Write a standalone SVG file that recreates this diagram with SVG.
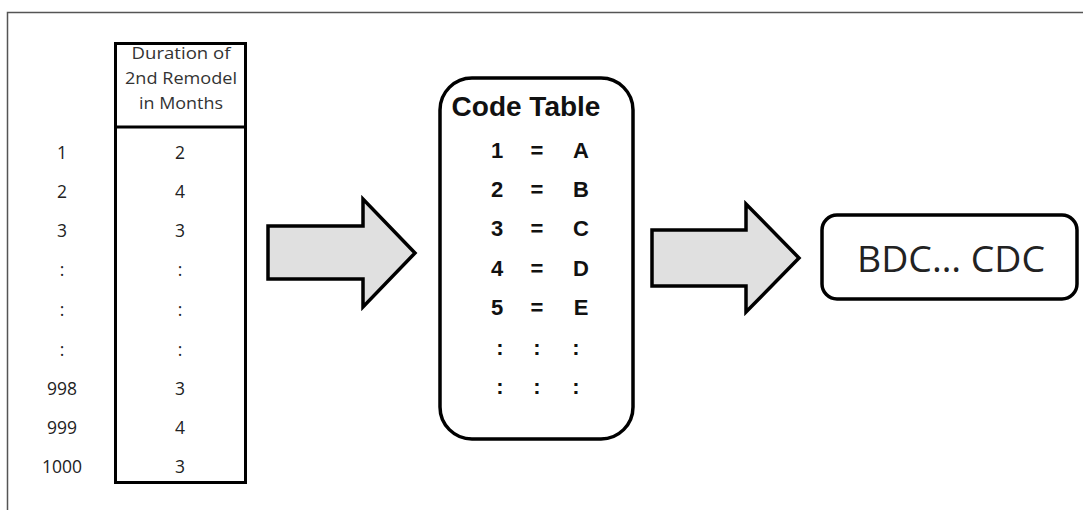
<svg xmlns="http://www.w3.org/2000/svg" width="1083" height="510" viewBox="0 0 1083 510">
<style>
.t{font-family:"Open Sans","Liberation Sans",sans-serif;fill:#222;text-anchor:middle;dominant-baseline:central}
.s{font-size:17.5px}
.h{font-size:15.5px;fill:#333}
.b{font-family:"Liberation Sans",sans-serif;font-weight:bold;font-size:22px;fill:#111;text-anchor:middle;dominant-baseline:central}
.title{font-size:28px}
.box{fill:#fff;stroke:#000;stroke-width:3.5}
.arrow{fill:#e0e0e0;stroke:#000;stroke-width:3.5;stroke-linejoin:miter}
</style>
<rect x="0" y="0" width="1083" height="510" fill="#fff"/>
<path d="M7.5 510 V12.5 H1083" fill="none" stroke="#555" stroke-width="1.5"/>
<g id="data-table">
<rect x="115.5" y="43.5" width="130" height="439" fill="#fff" stroke="#000" stroke-width="3"/>
<line x1="115.5" y1="127" x2="245.5" y2="127" stroke="#000" stroke-width="3"/>
<text class="t h" x="181" y="53" textLength="99" lengthAdjust="spacingAndGlyphs">Duration of</text>
<text class="t h" x="181" y="78" textLength="112" lengthAdjust="spacingAndGlyphs">2nd Remodel</text>
<text class="t h" x="181" y="103" textLength="84" lengthAdjust="spacingAndGlyphs">in Months</text>
<g class="t s">
<text x="62" y="152">1</text><text x="180" y="152">2</text>
<text x="62" y="191">2</text><text x="180" y="191">4</text>
<text x="62" y="230">3</text><text x="180" y="230">3</text>
<text x="62" y="269">:</text><text x="180" y="269">:</text>
<text x="62" y="309">:</text><text x="180" y="309">:</text>
<text x="62" y="349">:</text><text x="180" y="349">:</text>
<text x="62" y="388">998</text><text x="180" y="388">3</text>
<text x="62" y="427">999</text><text x="180" y="427">4</text>
<text x="62" y="466">1000</text><text x="180" y="466">3</text>
</g>
</g>
<g id="connectors">
<polygon class="arrow" points="268,226 363,226 363,199 415,253 363,307 363,279 268,279"/>
<polygon class="arrow" points="652,230 746,230 746,204 799,258 746,312 746,286 652,286"/>
</g>
<g id="code-table">
<rect class="box" x="440" y="78" width="193" height="361" rx="32" ry="32"/>
<text class="b title" x="526" y="106">Code Table</text>
<text class="b" x="497" y="150">1</text><text class="b" x="537" y="150">=</text><text class="b" x="581" y="150">A</text>
<text class="b" x="497" y="189">2</text><text class="b" x="537" y="189">=</text><text class="b" x="581" y="189">B</text>
<text class="b" x="497" y="228">3</text><text class="b" x="537" y="228">=</text><text class="b" x="581" y="228">C</text>
<text class="b" x="497" y="268">4</text><text class="b" x="537" y="268">=</text><text class="b" x="581" y="268">D</text>
<text class="b" x="497" y="307">5</text><text class="b" x="537" y="307">=</text><text class="b" x="581" y="307">E</text>
<text class="b" x="500" y="347">:</text><text class="b" x="537" y="347">:</text><text class="b" x="576" y="347">:</text>
<text class="b" x="500" y="386">:</text><text class="b" x="537" y="386">:</text><text class="b" x="576" y="386">:</text>
</g>
<g id="result">
<rect class="box" x="822" y="215" width="255" height="84" rx="15" ry="15"/>
<text class="t" x="951" y="258" font-size="36" fill="#111" textLength="188" lengthAdjust="spacingAndGlyphs">BDC… CDC</text>
</g>
</svg>
